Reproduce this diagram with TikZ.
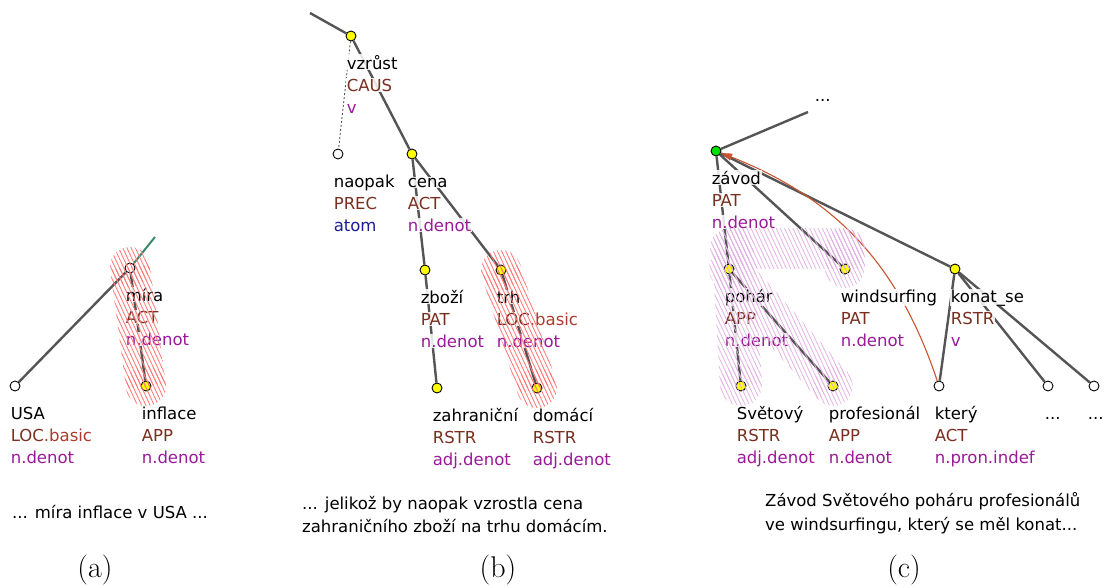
\documentclass[tikz,border=0pt]{standalone}
\usepackage{fontspec}
\setsansfont{DejaVu Sans}
\usetikzlibrary{calc,patterns.meta,arrows.meta}
\definecolor{edgec}{HTML}{555555}
\definecolor{fun}{HTML}{7A2E1F}
\definecolor{funb}{HTML}{B03A2E}
\definecolor{typ}{HTML}{9A1A9A}
\definecolor{atomc}{HTML}{1C1C99}
\definecolor{hatchr}{HTML}{FF7878}
\definecolor{hatchv}{HTML}{E2B4E2}
\definecolor{coref}{HTML}{C8552F}
\definecolor{greenl}{HTML}{3A8A6A}
\definecolor{ynode}{HTML}{FFFF00}
\definecolor{gnode}{HTML}{00E000}
\pgfdeclarelayer{bg}
\pgfdeclarelayer{fg}
\pgfsetlayers{bg,main,fg}
\tikzset{
  tnode/.style={circle, draw=black, line width=0.9pt, minimum size=10pt, inner sep=0pt},
  yel/.style={tnode, fill=ynode},
  wht/.style={tnode, fill=white},
  grn/.style={tnode, fill=gnode},
  edge/.style={draw=edgec, line width=2.4pt},
  dotedge/.style={draw=edgec, line width=0.9pt, dash pattern=on 2pt off 2pt},
  corefarrow/.style={draw=coref, line width=1.1pt, -{Triangle[length=11pt,width=7pt]}},
  lab/.style={anchor=base west, inner sep=0.6pt, fill=white, fill opacity=0.85, text opacity=1,
    font=\sffamily\fontsize{16.5}{22}\selectfont},
  sentence/.style={anchor=base west, inner sep=0pt, font=\sffamily\fontsize{16.5}{22}\selectfont},
  sublab/.style={inner sep=0pt, font=\rmfamily\fontsize{30}{30}\selectfont},
  hatchR/.style={pattern={Lines[angle=-65,distance=3.8pt,line width=0.85pt]}, pattern color=hatchr},
  hatchV/.style={pattern={Lines[angle=-65,distance=3.8pt,line width=0.8pt]}, pattern color=hatchv},
}
\newcommand\tlab[5][typ]{%
  \node[lab] (#2w) at ($(#2)+(-5,33)$) {#3};
  \node[lab, text=fun] (#2f) at ($(#2)+(-5,55)$) {#4};
  \node[lab, text=#1] (#2t) at ($(#2)+(-5,77)$) {#5};}
\newcommand\capsule[4]{%
  \fill[#1] (#2) circle[radius=#4];
  \fill[#1] (#3) circle[radius=#4];
  \fill[#1] ($(#2)!#4!90:(#3)$) -- ($(#3)!#4!-90:(#2)$) -- ($(#3)!#4!90:(#2)$) -- ($(#2)!#4!-90:(#3)$) -- cycle;}
\begin{document}
\begin{tikzpicture}[x=1pt, y=-1pt]
\useasboundingbox (0,0) rectangle (1104,587);
% ---------- (a)
\node[wht] (mira) at (130,268) {};
\node[wht] (usa) at (15,386) {};
\node[yel] (inflace) at (146,386) {};
\coordinate (atop) at (155,237);
\tlab{mira}{míra}{ACT}{n.denot}
\tlab{usa}{USA}{LOC\textcolor{funb}{.basic}}{n.denot}
\tlab{inflace}{inflace}{APP}{n.denot}
% ---------- (b)
\coordinate (btop) at (310,13);
\node[yel] (vzrust) at (351,36) {};
\node[wht] (naopak) at (338,154) {};
\node[yel] (cena) at (412,154) {};
\node[yel] (zbozi) at (425,270) {};
\node[yel] (trh) at (501,270) {};
\node[yel] (zahr) at (437,388) {};
\node[yel] (domaci) at (537,388) {};
\tlab{vzrust}{vzrůst}{CAUS}{v}
\tlab[atomc]{naopak}{naopak}{PREC}{atom}
\tlab{cena}{cena}{ACT}{n.denot}
\tlab{zbozi}{zboží}{PAT}{n.denot}
\tlab{trh}{trh}{LOC\textcolor{funb}{.basic}}{n.denot}
\tlab{zahr}{zahraniční}{RSTR}{adj.denot}
\tlab{domaci}{domácí}{RSTR}{adj.denot}
% ---------- (c)
\node[lab, fill=none] (ctopdots) at (814,101) {...};
\coordinate (ctop) at (808,112);
\node[grn] (zavod) at (716,151) {};
\node[yel] (pohar) at (729,269) {};
\node[yel] (wind) at (845,269) {};
\node[yel] (konat) at (955,269) {};
\node[yel] (svet) at (741,386) {};
\node[yel] (prof) at (833,386) {};
\node[wht] (ktery) at (939,386) {};
\node[wht] (dA) at (1048,386) {};
\node[wht] (dB) at (1094,386) {};
\tlab{zavod}{závod}{PAT}{n.denot}
\tlab{pohar}{pohár}{APP}{n.denot}
\tlab{wind}{windsurfing}{PAT}{n.denot}
\tlab{konat}{konat\_se}{RSTR}{v}
\tlab{svet}{Světový}{RSTR}{adj.denot}
\tlab{prof}{profesionál}{APP}{n.denot}
\tlab{ktery}{který}{ACT}{n.pron.indef}
\node[lab] (dAw) at ($(dA)+(-4,33)$) {...};
\node[lab] (dBw) at ($(dB)+(-7,33)$) {...};
% ---------- connectors
\begin{pgfonlayer}{bg}
\draw[edge, draw=greenl, line width=2pt] (mira) -- (atop);
\draw[edge] (mira) -- (usa);
\draw[edge] (mira) -- (inflace);
\draw[edge] (btop) -- (vzrust);
\draw[dotedge] (vzrust) -- (naopak);
\draw[edge] (vzrust) -- (cena);
\draw[edge] (cena) -- (zbozi);
\draw[edge] (cena) -- (trh);
\draw[edge] (zbozi) -- (zahr);
\draw[edge] (trh) -- (domaci);
\draw[edge] (ctop) -- (zavod);
\draw[edge] (zavod) -- (pohar);
\draw[edge] (zavod) -- (wind);
\draw[edge] (zavod) -- (konat);
\draw[edge] (pohar) -- (svet);
\draw[edge] (pohar) -- (prof);
\draw[edge] (konat) -- (ktery);
\draw[edge] (konat) -- (dA);
\draw[edge] (konat) -- (dB);
\draw[corefarrow] (ktery) to[bend right=25] (zavod);
\end{pgfonlayer}
% ---------- highlights
\begin{pgfonlayer}{fg}
\capsule{hatchR}{130,267}{146,386}{20pt}
\capsule{hatchR}{501,270}{537,388}{20pt}
\capsule{hatchV}{730,248}{845,248}{20pt}
\capsule{hatchV}{845,248}{845,268}{20pt}
\capsule{hatchV}{733,248}{741,385}{21pt}
\capsule{hatchV}{729,269}{833,386}{20pt}
\end{pgfonlayer}
% ---------- sentences
\node[sentence] (sa) at (12,518) {... míra inflace v USA ...};
\node[sentence] (sb1) at (302,509) {... jelikož by naopak vzrostla cena};
\node[sentence] (sb2) at (302,532) {zahraničního zboží na trhu domácím.};
\node[sentence] (sc1) at (765,506) {Závod Světového poháru profesionálů};
\node[sentence] (sc2) at (765,530) {ve windsurfingu, který se měl konat...};
\node[sublab] (la) at (95,570) {(a)};
\node[sublab] (lb) at (498,570) {(b)};
\node[sublab] (lc) at (904,570) {(c)};
\end{tikzpicture}
\end{document}
